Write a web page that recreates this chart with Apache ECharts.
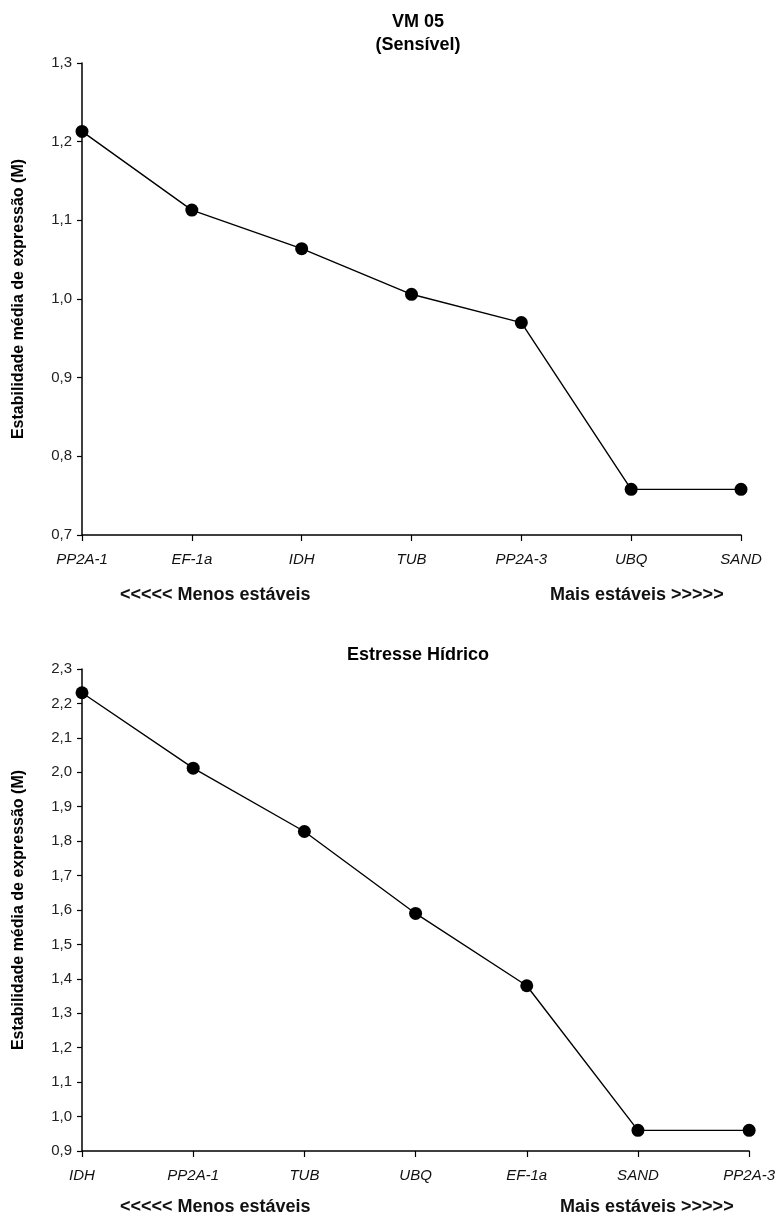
<!DOCTYPE html>
<html>
<head>
<meta charset="utf-8">
<script src="https://cdn.jsdelivr.net/npm/echarts@6/dist/echarts.min.js"></script>
<style>
  html, body { margin: 0; padding: 0; background: #fff; }
  #main { width: 778px; height: 1219px; }
</style>
</head>
<body>
<div id="main"></div>
<script>
// painel superior: VM 05 (Sensivel)
var genesTop = ['PP2A-1', 'EF-1a', 'IDH', 'TUB', 'PP2A-3', 'UBQ', 'SAND'];
var valuesTop = [1.213, 1.113, 1.064, 1.006, 0.970, 0.758, 0.758];

// painel inferior: Estresse Hidrico
var genesBottom = ['IDH', 'PP2A-1', 'TUB', 'UBQ', 'EF-1a', 'SAND', 'PP2A-3'];
var valuesBottom = [2.231, 2.012, 1.828, 1.590, 1.380, 0.960, 0.960];

var yName = 'Estabilidade média de expressão (M)';
var narrow = '"Liberation Sans Narrow", "Arial Narrow", Arial, sans-serif';
var sans = 'Arial, "Liberation Sans", sans-serif';

function virgula(v) { return v.toFixed(1).replace('.', ','); }

function xAxis(idx, cats) {
  return {
    type: 'category', gridIndex: idx, data: cats, boundaryGap: false,
    axisLine: { lineStyle: { color: '#000', width: 1.5 } },
    axisTick: { alignWithLabel: true, length: 6, lineStyle: { color: '#000', width: 1.2 } },
    axisLabel: { color: '#111', fontStyle: 'italic', fontFamily: narrow, fontSize: 15, margin: 17, interval: 0 },
    splitLine: { show: false }
  };
}

function yAxis(idx, min, max) {
  return {
    type: 'value', gridIndex: idx, min: min, max: max, interval: 0.1,
    name: yName, nameLocation: 'middle', nameGap: 55, nameRotate: 90,
    nameTextStyle: { color: '#000', fontWeight: 'bold', fontSize: 16, fontFamily: sans },
    axisLine: { show: true, lineStyle: { color: '#000', width: 1.5 } },
    axisTick: { show: true, length: 5, lineStyle: { color: '#000', width: 1.2 } },
    axisLabel: { color: '#222', fontSize: 15, fontFamily: sans, margin: 10, formatter: virgula },
    splitLine: { show: false }
  };
}

function serie(idx, vals) {
  return {
    type: 'line', xAxisIndex: idx, yAxisIndex: idx, data: vals,
    symbol: 'circle', symbolSize: 13, showSymbol: true,
    lineStyle: { color: '#000', width: 1.4 },
    itemStyle: { color: '#000' },
    animation: false
  };
}

function rotulo(x, y, txt) {
  return {
    type: 'text', left: x, top: y,
    style: { text: txt, fill: '#111', font: 'bold 18px ' + narrow }
  };
}

var chart = echarts.init(document.getElementById('main'));
chart.setOption({
  backgroundColor: '#fff',
  animation: false,
  title: [
    { text: 'VM 05\n(Sensível)', left: 413, top: 6, textAlign: 'center',
      textStyle: { fontSize: 18, fontWeight: 'bold', color: '#000', fontFamily: sans, lineHeight: 23 } },
    { text: 'Estresse Hídrico', left: 413, top: 641, textAlign: 'center',
      textStyle: { fontSize: 18, fontWeight: 'bold', color: '#000', fontFamily: sans } }
  ],
  grid: [
    { left: 82, top: 63, width: 659, height: 472 },
    { left: 82, top: 669, width: 671, height: 482 }
  ],
  xAxis: [xAxis(0, genesTop), xAxis(1, genesBottom)],
  yAxis: [yAxis(0, 0.7, 1.3), yAxis(1, 0.9, 2.3)],
  series: [serie(0, valuesTop), serie(1, valuesBottom)],
  graphic: [
    rotulo(120, 586, '<<<<< Menos estáveis'),
    rotulo(550, 586, 'Mais estáveis >>>>>'),
    rotulo(120, 1198, '<<<<< Menos estáveis'),
    rotulo(560, 1198, 'Mais estáveis >>>>>')
  ]
});
</script>
</body>
</html>
